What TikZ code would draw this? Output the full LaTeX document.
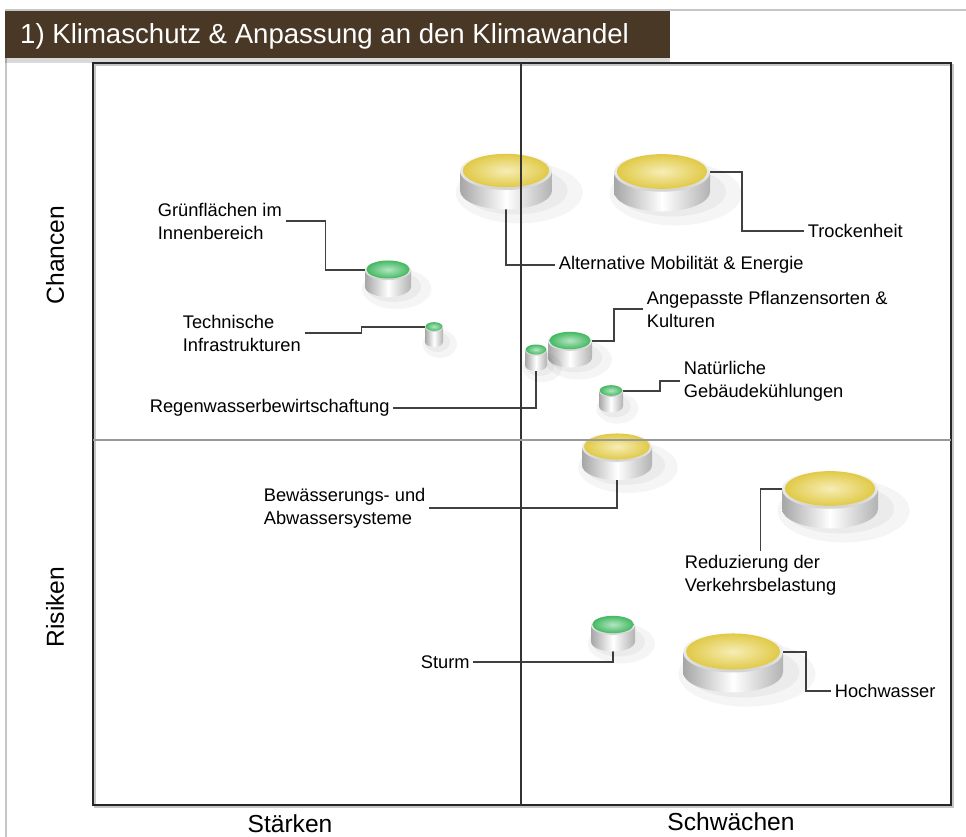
\documentclass[tikz,border=0pt]{standalone}
\usepackage{fontspec}
\setmainfont{Liberation Sans}
\usetikzlibrary{positioning,shapes,calc,backgrounds}

\definecolor{titlebrown}{RGB}{74,56,38}
\definecolor{discyellow}{RGB}{234,210,74}
\definecolor{discgreen}{RGB}{70,192,102}

% disc: name, x, y, radius, colour
\newcommand{\disc}[5]{%
  \pgfmathsetmacro{\discry}{0.38*#4+1.5}
  \pgfmathsetmacro{\discdh}{14+0.12*#4}
  \begin{scope}[shift={(#2,-#3)}]
    \fill[black,opacity=0.04] (0.2*#4+4,-\discdh-2) ellipse [x radius=1.25*#4+6, y radius=1.2*\discry+8];
    \fill[black,opacity=0.04] (0.15*#4+2,-\discdh) ellipse [x radius=1.08*#4+3, y radius=\discry+5];
    \shade[left color=gray!70,right color=gray!60,middle color=white]
      (-#4,0) -- (-#4,-\discdh) arc [start angle=180,end angle=360,x radius=#4,y radius=\discry] -- (#4,0) -- cycle;
    \shade[top color=white,bottom color=gray!35] (0,0) ellipse [x radius=#4, y radius=\discry];
    \shade[inner color=#5!40!white,outer color=#5!96!black] (0,0.5) ellipse [x radius=0.94*#4, y radius=0.88*\discry];
    \node[disc node] (#1) at (0,0) {};
  \end{scope}}

\begin{document}
\begin{tikzpicture}[x=0.02cm,y=0.02cm,
                    link/.style={draw=black!75,line width=0.8pt},
                    lab/.style={font=\fontsize{10.4}{13.1}\selectfont,align=left,inner sep=2pt},
                    axlab/.style={font=\fontsize{14}{16}\selectfont,inner sep=0pt},
                    disc node/.style={inner sep=0pt,minimum size=0pt}]
  \useasboundingbox (0,0) rectangle (966,-837);

  % frame and title
  \draw[gray!45,line width=0.6pt] (6,-837) |- (966,-10);
  \fill[black,opacity=0.15] (5,-58) rectangle (670,-63);
  \fill[titlebrown] (5,-11) rectangle (670,-58);
  \node[anchor=west,text=white,font=\fontsize{15.7}{18}\selectfont] (title) at (14,-36) {1) Klimaschutz \& Anpassung an den Klimawandel};

  % discs
  \disc{mob}{506}{171}{46}{discyellow}
  \disc{trock}{662}{172}{48}{discyellow}
  \disc{gruen}{388}{270}{23}{discgreen}
  \disc{tech}{434}{327}{9}{discgreen}
  \disc{pflanz}{570}{341}{22}{discgreen}
  \disc{regen}{536}{350}{11}{discgreen}
  \disc{kuehl}{611}{391}{12}{discgreen}
  \disc{bew}{617}{447}{35}{discyellow}
  \disc{verk}{830}{489}{48}{discyellow}
  \disc{sturm}{613}{625}{22}{discgreen}
  \disc{hoch}{733}{652}{50}{discyellow}

  % box and axes
  \draw[gray!45,line width=1.2pt] (95,-65) rectangle (953,-807);
  \draw[black!85,line width=1.1pt] (93,-63) rectangle (951,-805);
  \draw[black!80,line width=0.8pt] (521,-63) -- (521,-805);
  \draw[gray!80,line width=0.8pt] (93,-440) -- (951,-440);

  % labels
  \node[lab,anchor=west] (lgruen)  at (154,-221) {Grünflächen im\\Innenbereich};
  \node[lab,anchor=west] (lmob)    at (555,-265) {Alternative Mobilität \& Energie};
  \node[lab,anchor=west] (ltrock)  at (804,-231) {Trockenheit};
  \node[lab,anchor=west] (ltech)   at (179,-333) {Technische\\Infrastrukturen};
  \node[lab,anchor=west] (lpflanz) at (643,-309) {Angepasste Pflanzensorten \&\\Kulturen};
  \node[lab,anchor=west] (lkuehl)  at (680,-381) {Natürliche\\Gebäudekühlungen};
  \node[lab,anchor=west] (lregen)  at (146,-408) {Regenwasserbewirtschaftung};
  \node[lab,anchor=west] (lbew)    at (260,-508) {Bewässerungs- und\\Abwassersysteme};
  \node[lab,anchor=west] (lverk)   at (681,-575) {Reduzierung der\\Verkehrsbelastung};
  \node[lab,anchor=west] (lsturm)  at (417,-662) {Sturm};
  \node[lab,anchor=west] (lhoch)   at (831,-691) {Hochwasser};

  \node[axlab,rotate=90] (chancen)  at (55,-255) {Chancen};
  \node[axlab,rotate=90] (risiken)  at (55,-607) {Risiken};
  \node[axlab] (staerken)  at (290,-824) {Stärken};
  \node[axlab] (schwaechen) at (731,-822) {Schwächen};

  % connectors
  \begin{scope}[on background layer]
    \path[link] (lgruen.east) -- ++(40,0) |- (gruen);
    \path[link] (lmob.west) -| (mob);
    \path[link] (ltrock.west) -- ++(-62,0) |- (trock);
    \path[link] (ltech.east) -- ++(57,0) |- (tech);
    \path[link] (lpflanz.west) -- ++(-29,0) |- (pflanz);
    \path[link] (lkuehl.west) -- ++(-20,0) |- (kuehl);
    \path[link] (lregen.east) -| (regen);
    \path[link] (lbew.east) -| (bew);
    \path[link] (lverk.north) |- (verk);
    \path[link] (lsturm.east) -| (sturm);
    \path[link] (lhoch.west) -- ++(-25,0) |- (hoch);
  \end{scope}
\end{tikzpicture}
\end{document}
